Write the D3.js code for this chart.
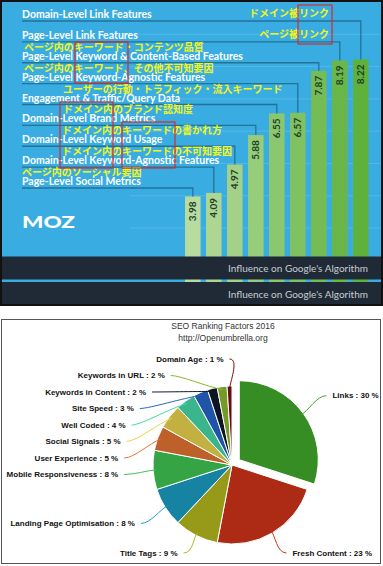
<!DOCTYPE html>
<html>
<head>
<meta charset="utf-8">
<script src="https://cdn.jsdelivr.net/npm/d3@7"></script>
<style>
  body { margin: 0; background: #fff; }
  svg { display: block; }
</style>
</head>
<body>
<script>
// top chart: ranking factors and their influence (top label = tallest bar)
var factorsEn = ["Domain-Level Link Features", "Page-Level Link Features",
  "Page-Level Keyword & Content-Based Features", "Page-Level Keyword-Agnostic Features",
  "Engagement & Traffic/Query Data", "Domain-Level Brand Metrics",
  "Domain-Level Keyword Usage", "Domain-Level Keyword-Agnostic Features",
  "Page-Level Social Metrics"];
var factorsJa = ["ドメイン被リンク", "ページ被リンク", "ページ内のキーワード・コンテンツ品質",
  "ページ内のキーワード、その他不可知要因", "ユーザーの行動・トラフィック・流入キーワード",
  "ドメイン内のブランド認知度", "ドメイン内のキーワードの書かれ方",
  "ドメイン内のキーワードの不可知要因", "ページ内のソーシャル要因"];
var influence = [8.22, 8.19, 7.87, 6.57, 6.55, 5.88, 4.97, 4.09, 3.98];
var axisLabel = "Influence on Google's Algorithm";

// bottom chart: pie of ranking factors
var pieTitle = "SEO Ranking Factors 2016";
var pieSubtitle = "http://Openumbrella.org";
var pieNames = ["Links", "Fresh Content", "Title Tags", "Landing Page Optimisation",
  "Mobile Responsiveness", "User Experience", "Social Signals", "Well Coded",
  "Site Speed", "Keywords in Content", "Keywords in URL", "Domain Age"];
var pieShares = [30, 23, 9, 8, 8, 5, 5, 4, 3, 2, 2, 1];
var pieColors = ["#40a82a", "#cf3318", "#b4b81e", "#1c9cc2", "#3fc452", "#e27332",
  "#e8d34c", "#46d8a6", "#2664c6", "#0f1a26", "#8bb830", "#7c0d16"];

var width = 383, height = 566;

var svg = d3.select("body").append("svg")
  .attr("width", width)
  .attr("height", height);

var defs = svg.append("defs");

// ---------- top panel ----------
svg.append("rect")
  .attr("x", 0).attr("y", 0)
  .attr("width", width).attr("height", 306)
  .attr("fill", "#111");

defs.append("clipPath").attr("id", "clipTop")
  .append("rect").attr("x", 2).attr("y", 2).attr("width", 379).attr("height", 302);

var panel = svg.append("g").attr("clip-path", "url(#clipTop)");

panel.append("rect")
  .attr("x", 2).attr("y", 2)
  .attr("width", 379).attr("height", 302)
  .attr("fill", "#39ade2");

var rows = d3.range(influence.length);

var xScale = d3.scaleBand()
  .domain(rows.slice().reverse())
  .range([182.3, 371.3])
  .paddingInner(0.26)
  .paddingOuter(0.13);

var yScale = d3.scaleLinear()
  .domain([0, 9])
  .range([325, 34.3]);

// baseline of each label row
var rowY = d3.scaleLinear()
  .domain([0, rows.length - 1])
  .range([18, 185]);

// faint grid
panel.selectAll(".grid")
  .data(yScale.ticks(9).filter(function(t) { return t >= 3; }))
  .enter()
  .append("line")
  .attr("class", "grid")
  .attr("x1", 130).attr("x2", 381)
  .attr("y1", function(d) { return yScale(d); })
  .attr("y2", function(d) { return yScale(d); })
  .attr("stroke", "#ffffff")
  .attr("stroke-opacity", 0.14)
  .attr("stroke-width", 1);

// bars, light to dark from left to right
var barColor = d3.interpolateRgb("#b8dba0", "#5eb23b");
panel.selectAll(".bar")
  .data(rows)
  .enter()
  .append("rect")
  .attr("class", "bar")
  .attr("x", function(i) { return xScale(i); })
  .attr("y", function(i) { return yScale(influence[i]); })
  .attr("width", xScale.bandwidth())
  .attr("height", function(i) { return yScale(0) - yScale(influence[i]); })
  .attr("fill", function(i) { return barColor((rows.length - 1 - i) / (rows.length - 1)); });

// connector from label to bar
panel.selectAll(".link")
  .data(rows)
  .enter()
  .append("path")
  .attr("class", "link")
  .attr("d", function(i) {
    var cx = xScale(i) + xScale.bandwidth() / 2;
    return "M22," + (rowY(i) + 3) + "H" + cx + "V" + yScale(influence[i]);
  })
  .attr("fill", "none")
  .attr("stroke", "#22678a")
  .attr("stroke-opacity", 0.85)
  .attr("stroke-width", 1.3);

// values in the bars
panel.selectAll(".val")
  .data(rows)
  .enter()
  .append("text")
  .attr("class", "val")
  .attr("transform", function(i) {
    return "translate(" + [xScale(i) + xScale.bandwidth() / 2, yScale(influence[i]) + 5] + ") rotate(-90)";
  })
  .attr("text-anchor", "end")
  .attr("dy", "0.35em")
  .style("font", "bold 10px Lato, 'DejaVu Sans', sans-serif")
  .attr("fill", "#1e3d28")
  .text(function(i) { return influence[i].toFixed(2); });

// english labels
panel.selectAll(".en")
  .data(rows)
  .enter()
  .append("text")
  .attr("class", "en")
  .attr("x", 22)
  .attr("y", function(i) { return rowY(i); })
  .style("font", "bold 10.5px Lato, sans-serif")
  .attr("fill", "#ffffff")
  .text(function(i) { return factorsEn[i]; });

// japanese notes (first two sit at the right, the rest above their row)
var jaIndent = [0, 0, 2, 2, 41, 41, 40, 40, 0];
panel.selectAll(".ja")
  .data(rows)
  .enter()
  .append("text")
  .attr("class", "ja")
  .attr("x", function(i) { return i < 2 ? 329 : 22 + jaIndent[i]; })
  .attr("y", function(i) { return i < 2 ? rowY(i) - 1 : rowY(i) - 9; })
  .attr("text-anchor", function(i) { return i < 2 ? "end" : "start"; })
  .style("font", "bold 10px 'Noto Sans CJK JP', sans-serif")
  .attr("fill", "#f4f41a")
  .text(function(i) { return factorsJa[i]; });

// red highlight boxes
var boxes = [[298, 5, 332, 44], [75, 42, 128, 83], [60, 102, 113, 168], [122, 122, 175, 168]];
panel.selectAll(".box")
  .data(boxes)
  .enter()
  .append("rect")
  .attr("class", "box")
  .attr("x", function(b) { return b[0]; })
  .attr("y", function(b) { return b[1]; })
  .attr("width", function(b) { return b[2] - b[0]; })
  .attr("height", function(b) { return b[3] - b[1]; })
  .attr("fill", "none")
  .attr("stroke", "#d42a2a")
  .attr("stroke-width", 1.2);

// logo
panel.append("text")
  .attr("x", 22).attr("y", 228)
  .attr("textLength", 53)
  .attr("lengthAdjust", "spacingAndGlyphs")
  .style("font", "900 16px Lato, sans-serif")
  .attr("fill", "#ffffff")
  .text("MOZ");

// dark axis bands (twice, as in the screenshot)
[[256.5, 23, 271.5], [282, 22, 297.5]].forEach(function(b) {
  panel.append("rect")
    .attr("x", 0).attr("y", b[0])
    .attr("width", width).attr("height", b[1])
    .attr("fill", "#1f2a36");
  panel.append("text")
    .attr("x", 368).attr("y", b[2])
    .attr("text-anchor", "end")
    .style("font", "10px Lato, sans-serif")
    .attr("fill", "#c9cdd1")
    .text(axisLabel);
});

// ---------- bottom panel ----------
svg.append("rect")
  .attr("x", 1.5).attr("y", 319.5)
  .attr("width", 379).attr("height", 244)
  .attr("fill", "#fff")
  .attr("stroke", "#555");

svg.append("text")
  .attr("x", 223).attr("y", 328.5)
  .attr("text-anchor", "middle")
  .style("font", "8.5px 'Liberation Sans', Arial, sans-serif")
  .attr("fill", "#333")
  .text(pieTitle);

svg.append("text")
  .attr("x", 223).attr("y", 341)
  .attr("text-anchor", "middle")
  .style("font", "8.5px 'Liberation Sans', Arial, sans-serif")
  .attr("fill", "#333")
  .text(pieSubtitle);

var pcx = 232, pcy = 465, radius = 79, labelR = 109, explode = 9;

var pie = d3.pie().sort(null).value(function(d) { return d; });
var arcs = pie(pieShares);
var arc = d3.arc().innerRadius(0).outerRadius(radius);

// shading: lighter near the centre, darker at the rim
pieColors.forEach(function(c, i) {
  var g = defs.append("radialGradient")
    .attr("id", "sl" + i)
    .attr("gradientUnits", "userSpaceOnUse")
    .attr("cx", pcx - 10).attr("cy", pcy - 15).attr("r", radius * 1.2);
  g.append("stop").attr("offset", "0").attr("stop-color", d3.color(c).brighter(0.35));
  g.append("stop").attr("offset", "1").attr("stop-color", d3.color(c).darker(0.5));
});

function mid(a) { return (a.startAngle + a.endAngle) / 2; }

var slices = svg.append("g").attr("transform", "translate(" + [pcx, pcy] + ")");
slices.selectAll("path")
  .data(arcs)
  .enter()
  .append("path")
  .attr("transform", function(a, i) {
    var off = i === 0 ? explode : 0;
    return "translate(" + [Math.sin(mid(a)) * off, -Math.cos(mid(a)) * off] + ")";
  })
  .attr("d", arc)
  .attr("fill", function(a, i) { return "url(#sl" + i + ")"; })
  .attr("stroke", "#fff")
  .attr("stroke-width", 1);

// label layout: spread labels on each side so they do not overlap
var labels = arcs.map(function(a, i) {
  var off = i === 0 ? explode : 0;
  var m = mid(a);
  var ox = pcx + Math.sin(m) * off, oy = pcy - Math.cos(m) * off;
  return {
    i: i, m: m, ox: ox, oy: oy,
    left: Math.sin(m) < 0,
    natX: ox + Math.sin(m) * labelR,
    natY: oy - Math.cos(m) * labelR
  };
});

var gap = 16.5, topY = 359, bottomY = 553;
var leftSide = labels.filter(function(l) { return l.left; })
  .sort(function(a, b) { return a.natY - b.natY; });
var rightSide = labels.filter(function(l) { return !l.left; })
  .sort(function(a, b) { return a.natY - b.natY; });

[leftSide, rightSide].forEach(function(side) {
  var prev = -Infinity;
  side.forEach(function(l) {
    l.y = Math.max(l.natY, prev + gap, topY);
    prev = l.y;
  });
  side.forEach(function(l) { l.y = Math.min(l.y, bottomY); });
  side.forEach(function(l) {
    var dir = l.left ? -1 : 1;
    if (Math.abs(l.y - l.natY) < 10) {
      l.x = l.natX;
    } else {
      var dy = l.y - l.oy;
      l.x = l.ox + dir * Math.sqrt(Math.max(labelR * labelR - dy * dy, 0));
    }
    l.tx = l.x + dir * 5;
  });
});

var labelG = svg.append("g");

labelG.selectAll("path")
  .data(labels)
  .enter()
  .append("path")
  .attr("d", function(l) {
    var dir = l.left ? -1 : 1;
    var ex = l.ox + Math.sin(l.m) * (radius - 3);
    var ey = l.oy - Math.cos(l.m) * (radius - 3);
    var sx = l.x - dir * 1, sy = l.y;
    return "M" + sx + "," + sy +
      "C" + (sx - dir * 10) + "," + sy + " " +
      (ex + (sx - ex) * 0.3) + "," + (ey + (sy - ey) * 0.2) + " " + ex + "," + ey;
  })
  .attr("fill", "none")
  .attr("stroke", function(l) { return pieColors[l.i]; })
  .attr("stroke-width", 1);

labelG.selectAll("text")
  .data(labels)
  .enter()
  .append("text")
  .attr("x", function(l) { return l.tx; })
  .attr("y", function(l) { return l.y; })
  .attr("dy", "0.35em")
  .attr("text-anchor", function(l) { return l.left ? "end" : "start"; })
  .style("font", "bold 8px 'Liberation Sans', Arial, sans-serif")
  .attr("fill", "#111")
  .text(function(l) { return pieNames[l.i] + " : " + pieShares[l.i] + " %"; });
</script>
</body>
</html>
